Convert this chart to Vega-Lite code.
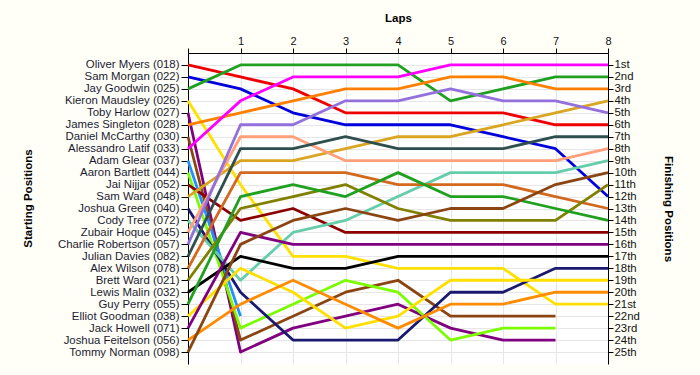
{
"$schema": "https://vega.github.io/schema/vega-lite/v6.json",
"width": 420, "height": 311,
"autosize": {"type": "none"},
"padding": {"left": 188, "top": 53, "right": 92, "bottom": 11},
"background": "#FFFFF7",
"config": {
  "view": {"stroke": null, "fill": "#FFFFFF"},
  "font": "Liberation Sans",
  "axis": {"labelFont": "Liberation Sans", "titleFont": "Liberation Sans", "labelFontSize": 11, "labelColor": "#1A1A33", "titleColor": "#000000", "titleFontSize": 11.5, "titleFontWeight": "bold", "domainColor": "#000000", "tickColor": "#000000", "gridColor": "#E6E6E6", "gridWidth": 1, "domainWidth": 1, "tickWidth": 1}
},
"data": {"values": [
{"driver":1,"lap":0,"pos":1},{"driver":1,"lap":1,"pos":2},{"driver":1,"lap":2,"pos":3},{"driver":1,"lap":3,"pos":5},{"driver":1,"lap":4,"pos":5},{"driver":1,"lap":5,"pos":5},{"driver":1,"lap":6,"pos":5},{"driver":1,"lap":7,"pos":6},{"driver":1,"lap":8,"pos":6},
{"driver":2,"lap":0,"pos":2},{"driver":2,"lap":1,"pos":3},{"driver":2,"lap":2,"pos":5},{"driver":2,"lap":3,"pos":6},{"driver":2,"lap":4,"pos":6},{"driver":2,"lap":5,"pos":6},{"driver":2,"lap":6,"pos":7},{"driver":2,"lap":7,"pos":8},{"driver":2,"lap":8,"pos":12},
{"driver":3,"lap":0,"pos":3},{"driver":3,"lap":1,"pos":1},{"driver":3,"lap":2,"pos":1},{"driver":3,"lap":3,"pos":1},{"driver":3,"lap":4,"pos":1},{"driver":3,"lap":5,"pos":4},{"driver":3,"lap":6,"pos":3},{"driver":3,"lap":7,"pos":2},{"driver":3,"lap":8,"pos":2},
{"driver":4,"lap":0,"pos":4},{"driver":4,"lap":1,"pos":11},{"driver":4,"lap":2,"pos":17},{"driver":4,"lap":3,"pos":17},{"driver":4,"lap":4,"pos":18},{"driver":4,"lap":5,"pos":18},{"driver":4,"lap":6,"pos":18},{"driver":4,"lap":7,"pos":21},{"driver":4,"lap":8,"pos":21},
{"driver":5,"lap":0,"pos":5},{"driver":5,"lap":1,"pos":25},{"driver":5,"lap":2,"pos":23},{"driver":5,"lap":3,"pos":22},{"driver":5,"lap":4,"pos":21},{"driver":5,"lap":5,"pos":23},{"driver":5,"lap":6,"pos":24},{"driver":5,"lap":7,"pos":24},
{"driver":6,"lap":0,"pos":6},{"driver":6,"lap":1,"pos":5},{"driver":6,"lap":2,"pos":4},{"driver":6,"lap":3,"pos":3},{"driver":6,"lap":4,"pos":3},{"driver":6,"lap":5,"pos":2},{"driver":6,"lap":6,"pos":2},{"driver":6,"lap":7,"pos":3},{"driver":6,"lap":8,"pos":3},
{"driver":7,"lap":0,"pos":7},{"driver":7,"lap":1,"pos":24},{"driver":7,"lap":2,"pos":22},{"driver":7,"lap":3,"pos":20},{"driver":7,"lap":4,"pos":19},{"driver":7,"lap":5,"pos":22},{"driver":7,"lap":6,"pos":22},{"driver":7,"lap":7,"pos":22},
{"driver":8,"lap":0,"pos":8},{"driver":8,"lap":1,"pos":4},{"driver":8,"lap":2,"pos":2},{"driver":8,"lap":3,"pos":2},{"driver":8,"lap":4,"pos":2},{"driver":8,"lap":5,"pos":1},{"driver":8,"lap":6,"pos":1},{"driver":8,"lap":7,"pos":1},{"driver":8,"lap":8,"pos":1},
{"driver":9,"lap":0,"pos":9},{"driver":9,"lap":1,"pos":22},
{"driver":10,"lap":0,"pos":10},{"driver":10,"lap":1,"pos":23},{"driver":10,"lap":2,"pos":21},{"driver":10,"lap":3,"pos":19},{"driver":10,"lap":4,"pos":20},{"driver":10,"lap":5,"pos":24},{"driver":10,"lap":6,"pos":23},{"driver":10,"lap":7,"pos":23},
{"driver":11,"lap":0,"pos":11},{"driver":11,"lap":1,"pos":14},{"driver":11,"lap":2,"pos":13},{"driver":11,"lap":3,"pos":15},{"driver":11,"lap":4,"pos":15},{"driver":11,"lap":5,"pos":15},{"driver":11,"lap":6,"pos":15},{"driver":11,"lap":7,"pos":15},{"driver":11,"lap":8,"pos":15},
{"driver":12,"lap":0,"pos":12},{"driver":12,"lap":1,"pos":9},{"driver":12,"lap":2,"pos":9},{"driver":12,"lap":3,"pos":8},{"driver":12,"lap":4,"pos":7},{"driver":12,"lap":5,"pos":7},{"driver":12,"lap":6,"pos":6},{"driver":12,"lap":7,"pos":5},{"driver":12,"lap":8,"pos":4},
{"driver":13,"lap":0,"pos":13},{"driver":13,"lap":1,"pos":20},{"driver":13,"lap":2,"pos":24},{"driver":13,"lap":3,"pos":24},{"driver":13,"lap":4,"pos":24},{"driver":13,"lap":5,"pos":20},{"driver":13,"lap":6,"pos":20},{"driver":13,"lap":7,"pos":18},{"driver":13,"lap":8,"pos":18},
{"driver":14,"lap":0,"pos":14},{"driver":14,"lap":1,"pos":19},{"driver":14,"lap":2,"pos":15},{"driver":14,"lap":3,"pos":14},{"driver":14,"lap":4,"pos":12},{"driver":14,"lap":5,"pos":10},{"driver":14,"lap":6,"pos":10},{"driver":14,"lap":7,"pos":10},{"driver":14,"lap":8,"pos":9},
{"driver":15,"lap":0,"pos":15},{"driver":15,"lap":1,"pos":7},{"driver":15,"lap":2,"pos":7},{"driver":15,"lap":3,"pos":9},{"driver":15,"lap":4,"pos":9},{"driver":15,"lap":5,"pos":9},{"driver":15,"lap":6,"pos":9},{"driver":15,"lap":7,"pos":9},{"driver":15,"lap":8,"pos":8},
{"driver":16,"lap":0,"pos":16},{"driver":16,"lap":1,"pos":6},{"driver":16,"lap":2,"pos":6},{"driver":16,"lap":3,"pos":4},{"driver":16,"lap":4,"pos":4},{"driver":16,"lap":5,"pos":3},{"driver":16,"lap":6,"pos":4},{"driver":16,"lap":7,"pos":4},{"driver":16,"lap":8,"pos":5},
{"driver":17,"lap":0,"pos":17},{"driver":17,"lap":1,"pos":8},{"driver":17,"lap":2,"pos":8},{"driver":17,"lap":3,"pos":7},{"driver":17,"lap":4,"pos":8},{"driver":17,"lap":5,"pos":8},{"driver":17,"lap":6,"pos":8},{"driver":17,"lap":7,"pos":7},{"driver":17,"lap":8,"pos":7},
{"driver":18,"lap":0,"pos":18},{"driver":18,"lap":1,"pos":10},{"driver":18,"lap":2,"pos":10},{"driver":18,"lap":3,"pos":10},{"driver":18,"lap":4,"pos":11},{"driver":18,"lap":5,"pos":11},{"driver":18,"lap":6,"pos":11},{"driver":18,"lap":7,"pos":12},{"driver":18,"lap":8,"pos":13},
{"driver":19,"lap":0,"pos":19},{"driver":19,"lap":1,"pos":13},{"driver":19,"lap":2,"pos":12},{"driver":19,"lap":3,"pos":11},{"driver":19,"lap":4,"pos":13},{"driver":19,"lap":5,"pos":14},{"driver":19,"lap":6,"pos":14},{"driver":19,"lap":7,"pos":14},{"driver":19,"lap":8,"pos":11},
{"driver":20,"lap":0,"pos":20},{"driver":20,"lap":1,"pos":17},{"driver":20,"lap":2,"pos":18},{"driver":20,"lap":3,"pos":18},{"driver":20,"lap":4,"pos":17},{"driver":20,"lap":5,"pos":17},{"driver":20,"lap":6,"pos":17},{"driver":20,"lap":7,"pos":17},{"driver":20,"lap":8,"pos":17},
{"driver":21,"lap":0,"pos":21},{"driver":21,"lap":1,"pos":12},{"driver":21,"lap":2,"pos":11},{"driver":21,"lap":3,"pos":12},{"driver":21,"lap":4,"pos":10},{"driver":21,"lap":5,"pos":12},{"driver":21,"lap":6,"pos":12},{"driver":21,"lap":7,"pos":13},{"driver":21,"lap":8,"pos":14},
{"driver":22,"lap":0,"pos":22},{"driver":22,"lap":1,"pos":18},{"driver":22,"lap":2,"pos":20},{"driver":22,"lap":3,"pos":23},{"driver":22,"lap":4,"pos":22},{"driver":22,"lap":5,"pos":19},{"driver":22,"lap":6,"pos":19},{"driver":22,"lap":7,"pos":19},{"driver":22,"lap":8,"pos":19},
{"driver":23,"lap":0,"pos":23},{"driver":23,"lap":1,"pos":15},{"driver":23,"lap":2,"pos":16},{"driver":23,"lap":3,"pos":16},{"driver":23,"lap":4,"pos":16},{"driver":23,"lap":5,"pos":16},{"driver":23,"lap":6,"pos":16},{"driver":23,"lap":7,"pos":16},{"driver":23,"lap":8,"pos":16},
{"driver":24,"lap":0,"pos":24},{"driver":24,"lap":1,"pos":21},{"driver":24,"lap":2,"pos":19},{"driver":24,"lap":3,"pos":21},{"driver":24,"lap":4,"pos":23},{"driver":24,"lap":5,"pos":21},{"driver":24,"lap":6,"pos":21},{"driver":24,"lap":7,"pos":20},{"driver":24,"lap":8,"pos":20},
{"driver":25,"lap":0,"pos":25},{"driver":25,"lap":1,"pos":16},{"driver":25,"lap":2,"pos":14},{"driver":25,"lap":3,"pos":13},{"driver":25,"lap":4,"pos":14},{"driver":25,"lap":5,"pos":13},{"driver":25,"lap":6,"pos":13},{"driver":25,"lap":7,"pos":11},{"driver":25,"lap":8,"pos":10}
]},
"layer": [
 {
  "mark": {"type": "line", "strokeWidth": 2.8, "strokeJoin": "round"},
  "encoding": {
   "x": {"field": "lap", "type": "quantitative",
     "scale": {"domain": [0, 8], "nice": false, "zero": false},
     "axis": {"orient": "top", "values": [0,1,2,3,4,5,6,7,8], "labelExpr": "datum.value == 0 ? '' : datum.value", "title": "Laps", "titleY": -35, "titleBaseline": "middle", "grid": true, "tickSize": 5, "labelPadding": 2, "labelColor": "#111111", "labelFlush": false}},
   "y": {"field": "pos", "type": "quantitative",
     "scale": {"domain": [0, 26], "reverse": true, "nice": false, "zero": false},
     "axis": {"orient": "left", "values": [1,2,3,4,5,6,7,8,9,10,11,12,13,14,15,16,17,18,19,20,21,22,23,24,25],
       "labelExpr": "['', 'Oliver Myers (018)', 'Sam Morgan (022)', 'Jay Goodwin (025)', 'Kieron Maudsley (026)', 'Toby Harlow (027)', 'James Singleton (028)', 'Daniel McCarthy (030)', 'Alessandro Latif (033)', 'Adam Glear (037)', 'Aaron Bartlett (044)', 'Jai Nijjar (052)', 'Sam Ward (048)', 'Joshua Green (040)', 'Cody Tree (072)', 'Zubair Hoque (045)', 'Charlie Robertson (057)', 'Julian Davies (082)', 'Alex Wilson (078)', 'Brett Ward (021)', 'Lewis Malin (032)', 'Guy Perry (055)', 'Elliot Goodman (038)', 'Jack Howell (071)', 'Joshua Feitelson (056)', 'Tommy Norman (098)'][datum.value]",
       "labelFontSize": 11.4,
       "title": "Starting Positions", "titleX": -160, "titleY": 145, "titleAngle": -90, "titleAlign": "center", "titleBaseline": "middle",
       "grid": true, "tickSize": 7, "labelPadding": 2, "labelFlush": false}},
   "color": {"field": "driver", "type": "nominal", "legend": null,
     "scale": {"domain": [1,2,3,4,5,6,7,8,9,10,11,12,13,14,15,16,17,18,19,20,21,22,23,24,25],
       "range": ["#EE0000","#0000DD","#20A020","#FFE000","#800080","#FF8000","#8B4513","#FF00FF","#1E90FF","#7CFC00","#8B0000","#DAA520","#191970","#66CDAA","#FFA07A","#9370DB","#2F4F4F","#D2691E","#808000","#000000","#1FA01F","#FFE000","#800080","#FF8C00","#8B4513"]}},
   "order": {"field": "lap"}
  }
 },
 {
  "mark": {"type": "point", "opacity": 0},
  "encoding": {
   "x": {"field": "lap", "type": "quantitative"},
   "y": {"field": "pos", "type": "quantitative",
     "axis": {"orient": "right", "values": [1,2,3,4,5,6,7,8,9,10,11,12,13,14,15,16,17,18,19,20,21,22,23,24,25],
       "labelExpr": "datum.value + ((datum.value == 1 || datum.value == 21) ? 'st' : (datum.value == 2 || datum.value == 22) ? 'nd' : (datum.value == 3 || datum.value == 23) ? 'rd' : 'th')",
       "labelFontSize": 11.4,
       "title": "Finishing Positions", "titleX": 59, "titleAngle": 90, "titleAlign": "center", "titleBaseline": "middle",
       "grid": false, "tickSize": 5, "labelPadding": 1, "labelFlush": false, "labelColor": "#111111"}}
  }
 }
],
"resolve": {"axis": {"y": "independent"}}
}
